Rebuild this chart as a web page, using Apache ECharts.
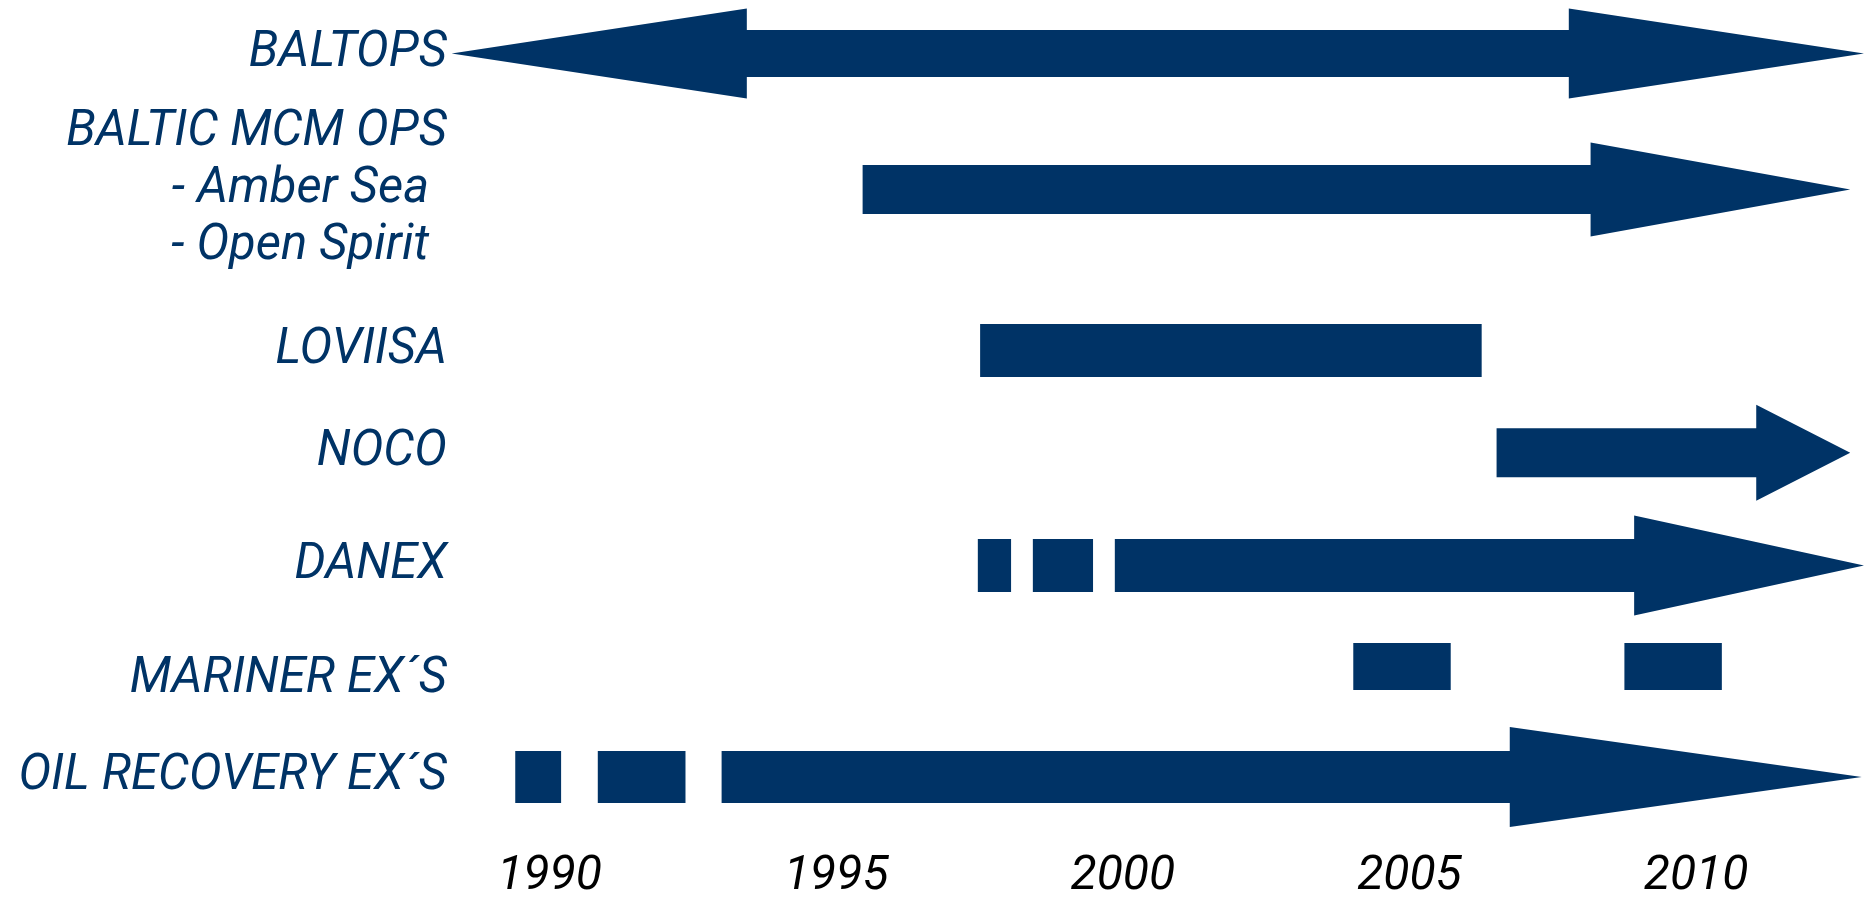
<!DOCTYPE html>
<html>
<head>
<meta charset="utf-8">
<title>Exercise timeline</title>
<script src="https://cdn.jsdelivr.net/npm/echarts@6/dist/echarts.min.js"></script>
<style>
  html, body { margin: 0; padding: 0; background: #fff; }
  #chart { width: 1864px; height: 901px; }
</style>
</head>
<body>
<div id="chart"></div>
<script>
// rows, top to bottom
const rowNames = ['BALTOPS', 'BALTIC MCM OPS', 'LOVIISA', 'NOCO', 'DANEX', 'MARINER EX´S', 'OIL RECOVERY EX´S']
// lane of each row on the (inverted) y axis
const rowLanes = [0.535, 1.895, 3.505, 4.527, 5.655, 6.665, 7.77]
const yearTicks = [1990, 1995, 2000, 2005, 2010]

// plain blocks: [row, from, to]
const blocks = [
  [2, 1997.51, 2006.26],
  [4, 1997.47, 1998.05],
  [4, 1998.43, 1999.48],
  [5, 2004.02, 2005.72],
  [5, 2008.75, 2010.45],
  [6, 1989.40, 1990.20],
  [6, 1990.84, 1992.37]
]

// arrows: [row, from, leftHeadEnd (null = flat tail), headStart, tip]
const arrows = [
  [0, 1988.29, 1993.44, 2007.78, 2012.93],
  [1, 1995.46, null, 2008.16, 2012.69],
  [3, 2006.52, null, 2011.05, 2012.69],
  [4, 1999.86, null, 2008.92, 2012.93],
  [6, 1993.0, null, 2006.75, 2012.89]
]

const NAVY = '#003366'
// bar / arrow head thickness per row (px)
const bodyH = [47, 49, 53, 49, 53, 47, 52]
const headH = [90, 94, 0, 96, 100, 0, 100]

const labelFont = {
  fontFamily: 'Roboto',
  fontStyle: 'italic',
  fontSize: 49,
  color: NAVY
}

function renderBlock(params, api) {
  const row = api.value(0)
  const lane = rowLanes[row]
  const p0 = api.coord([api.value(1), lane])
  const p1 = api.coord([api.value(2), lane])
  const h = bodyH[row]
  return {
    type: 'rect',
    shape: { x: p0[0], y: p0[1] - h / 2, width: p1[0] - p0[0], height: h },
    style: { fill: NAVY }
  }
}

function renderArrow(params, api) {
  const row = api.value(0)
  const lane = rowLanes[row]
  const h = bodyH[row] / 2
  const H = headH[row] / 2
  const px = v => api.coord([v, lane])[0]
  const cy = api.coord([api.value(1), lane])[1]
  const from = px(api.value(1))
  const back = px(api.value(3))
  const tip = px(api.value(4))
  const leftHead = !isNaN(api.value(2))
  const lb = leftHead ? px(api.value(2)) : from
  const pts = []
  if (leftHead) {
    pts.push([from, cy], [lb, cy - H], [lb, cy - h])
  } else {
    pts.push([from, cy - h])
  }
  pts.push([back, cy - h], [back, cy - H], [tip, cy], [back, cy + H], [back, cy + h])
  if (leftHead) {
    pts.push([lb, cy + h], [lb, cy + H])
  } else {
    pts.push([from, cy + h])
  }
  return { type: 'polygon', shape: { points: pts }, style: { fill: NAVY } }
}

function nearestRow(v) {
  let best = 0
  rowLanes.forEach((l, i) => {
    if (Math.abs(l - v) < Math.abs(rowLanes[best] - v)) best = i
  })
  return best
}

const chart = echarts.init(document.getElementById('chart'))
chart.setOption({
  animation: false,
  backgroundColor: '#fff',
  grid: { left: 435, right: 0, top: 0, bottom: 61 },
  xAxis: {
    type: 'value',
    min: 1988,
    max: 2012.93,
    axisLine: { show: false },
    axisTick: { show: false },
    splitLine: { show: false },
    axisLabel: {
      customValues: yearTicks,
      margin: 13,
      color: '#000',
      fontFamily: 'Roboto',
      fontStyle: 'italic',
      fontSize: 48,
      formatter: v => String(v)
    }
  },
  yAxis: {
    type: 'value',
    inverse: true,
    min: 0,
    max: 8.4,
    axisLine: { show: false },
    axisTick: { show: false },
    splitLine: { show: false },
    axisLabel: Object.assign({}, labelFont, {
      customValues: rowLanes,
      margin: -12,
      formatter: v => {
        const i = nearestRow(v)
        if (i === 1) {
          return '{m|BALTIC MCM OPS}\n{s|- Amber Sea}\n{s|- Open Spirit}'
        }
        if (i === 5) {
          return '{d|' + rowNames[i] + '}'
        }
        return rowNames[i]
      },
      rich: {
        m: Object.assign({}, labelFont, { lineHeight: 57 }),
        s: Object.assign({}, labelFont, { lineHeight: 57, padding: [0, 18, 0, 0] }),
        d: Object.assign({}, labelFont, { padding: [26, 0, 0, 0] })
      }
    })
  },
  series: [
    {
      type: 'custom',
      name: 'blocks',
      renderItem: renderBlock,
      encode: { x: [1, 2], y: 0 },
      data: blocks
    },
    {
      type: 'custom',
      name: 'arrows',
      renderItem: renderArrow,
      encode: { x: [1, 4], y: 0 },
      data: arrows
    }
  ]
})
</script>
</body>
</html>
